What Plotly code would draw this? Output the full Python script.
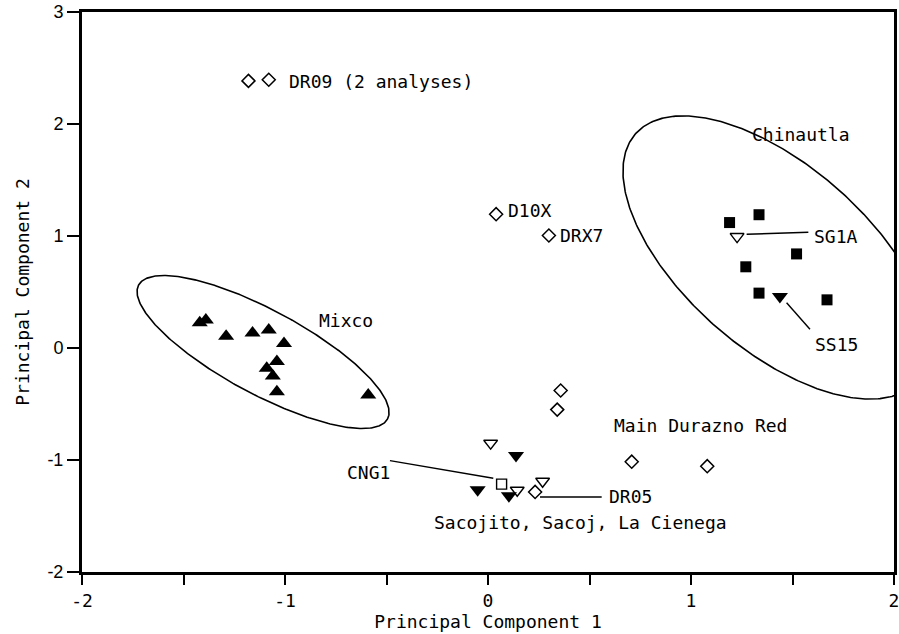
import numpy as np
import plotly.graph_objects as go

# ---------------- data ----------------
# Mixco group: filled up-triangles
mixco_x = [-1.42, -1.39, -1.29, -1.16, -1.08, -1.005, -1.04, -1.09, -1.06, -1.04, -0.59]
mixco_y = [0.225, 0.25, 0.105, 0.135, 0.16, 0.04, -0.12, -0.18, -0.25, -0.39, -0.42]

# Chinautla group: filled squares
chin_x = [1.19, 1.335, 1.52, 1.27, 1.335, 1.67]
chin_y = [1.12, 1.19, 0.84, 0.725, 0.49, 0.43]

# Open diamonds (Durazno samples)
diam_x = [-1.18, -1.08, 0.04, 0.30, 0.358, 0.341, 0.708, 1.08, 0.232]
diam_y = [2.385, 2.395, 1.195, 1.005, -0.38, -0.55, -1.015, -1.055, -1.285]

# Open down-triangles
otri_x = [0.013, 0.144, 0.269, 1.227]
otri_y = [-0.85, -1.27, -1.19, 0.995]

# Filled down-triangles
ftri_x = [0.138, -0.051, 0.103, 1.438]
ftri_y = [-0.96, -1.265, -1.32, 0.46]

# Open square (CNG1)
osq_x = [0.067]
osq_y = [-1.215]

# Text labels
label_text = ["DR09 (2 analyses)", "D10X", "DRX7", "Chinautla", "SG1A", "SS15",
              "Mixco", "Main Durazno Red", "CNG1", "DR05",
              "Sacojito, Sacoj, La Cienega"]
label_x = [-0.99, 0.09, 0.345, 1.29, 1.595, 1.60, -0.84, 0.61, -0.705, 0.585, -0.276]
label_y = [2.38, 1.23, 1.005, 1.91, 0.995, 0.03, 0.25, -0.69, -1.115, -1.33, -1.555]

# Leader lines (start x, start y, end x, end y)
lead_x0 = [1.274, 1.471, -0.483, 0.256]
lead_y0 = [1.015, 0.404, -1.006, -1.33]
lead_x1 = [1.578, 1.586, 0.026, 0.560]
lead_y1 = [1.033, 0.167, -1.163, -1.33]

# Group ellipses: centre and two semi-axis vectors, in data units
mixco_ell = dict(cx=-1.108, cy=-0.036, ux=0.613, uy=-0.598, vx=-0.098, vy=-0.330)
chin_ell = dict(cx=1.421, cy=0.808, ux=0.695, uy=-1.103, vx=-0.298, vy=-0.618)

x_ticks = [-2, -1, 0, 1, 2]
y_ticks = [-2, -1, 0, 1, 2, 3]

# ---------------- figure ----------------
MONO = "DejaVu Sans Mono"
fig = go.Figure()


def ellipse(e):
    t = np.linspace(0, 2 * np.pi, 400)
    return (e["cx"] + e["ux"] * np.cos(t) + e["vx"] * np.sin(t),
            e["cy"] + e["uy"] * np.cos(t) + e["vy"] * np.sin(t))


for e in (mixco_ell, chin_ell):
    ex, ey = ellipse(e)
    fig.add_trace(go.Scatter(x=ex, y=ey, mode="lines",
                             line=dict(color="black", width=1.6),
                             hoverinfo="skip"))

for x0, y0, x1, y1 in zip(lead_x0, lead_y0, lead_x1, lead_y1):
    fig.add_trace(go.Scatter(x=[x0, x1], y=[y0, y1], mode="lines",
                             line=dict(color="black", width=1.4),
                             hoverinfo="skip"))

fig.add_trace(go.Scatter(x=mixco_x, y=mixco_y, mode="markers", name="Mixco",
                         marker=dict(symbol="triangle-up", size=14, color="black")))
fig.add_trace(go.Scatter(x=chin_x, y=chin_y, mode="markers", name="Chinautla",
                         marker=dict(symbol="square", size=11, color="black")))
fig.add_trace(go.Scatter(x=diam_x, y=diam_y, mode="markers", name="Durazno",
                         marker=dict(symbol="diamond-open", size=10, color="black",
                                     line=dict(width=1.5, color="black"))))
fig.add_trace(go.Scatter(x=otri_x, y=otri_y, mode="markers", name="open",
                         marker=dict(symbol="triangle-down-open", size=12, color="black",
                                     line=dict(width=1.4, color="black"))))
fig.add_trace(go.Scatter(x=ftri_x, y=ftri_y, mode="markers", name="filled",
                         marker=dict(symbol="triangle-down", size=14, color="black")))
fig.add_trace(go.Scatter(x=osq_x, y=osq_y, mode="markers", name="CNG1",
                         marker=dict(symbol="square-open", size=10, color="black",
                                     line=dict(width=1.4, color="black"))))

for txt, x, y in zip(label_text, label_x, label_y):
    fig.add_annotation(x=x, y=y, text=txt, showarrow=False, xanchor="left",
                       yanchor="middle", font=dict(family=MONO, size=18, color="black"))

fig.update_layout(
    width=899, height=634,
    margin=dict(l=82, r=5, t=12, b=62, autoexpand=False),
    paper_bgcolor="white", plot_bgcolor="white",
    showlegend=False,
    xaxis=dict(range=[-2, 2], tickvals=x_ticks, ticktext=[str(v) for v in x_ticks],
               automargin=False, ticklabeloverflow="allow",
               showgrid=False, zeroline=False,
               showline=True, linecolor="black", linewidth=3, mirror=True,
               ticks="outside", ticklen=10, tickwidth=2, tickcolor="black",
               minor=dict(dtick=0.5, ticks="outside", ticklen=10, tickwidth=1.5,
                          tickcolor="black", showgrid=False),
               tickfont=dict(family=MONO, size=18, color="black"),
               title=dict(text="Principal Component 1", standoff=4,
                          font=dict(family=MONO, size=18, color="black"))),
    yaxis=dict(range=[-2, 3], tickvals=y_ticks, ticktext=[str(v) for v in y_ticks],
               automargin=False, ticklabeloverflow="allow",
               showgrid=False, zeroline=False,
               showline=True, linecolor="black", linewidth=3, mirror=True,
               ticks="outside", ticklen=12, tickwidth=2, tickcolor="black",
               tickfont=dict(family="Liberation Sans", size=18, color="black"),
               title=dict(text="Principal Component 2", standoff=14,
                          font=dict(family=MONO, size=18, color="black"))),
)

fig.write_html(
    "out.html",
    config={"responsive": False, "displayModeBar": False},
    post_script="document.body.style.margin='0';document.body.style.overflow='hidden';",
)
